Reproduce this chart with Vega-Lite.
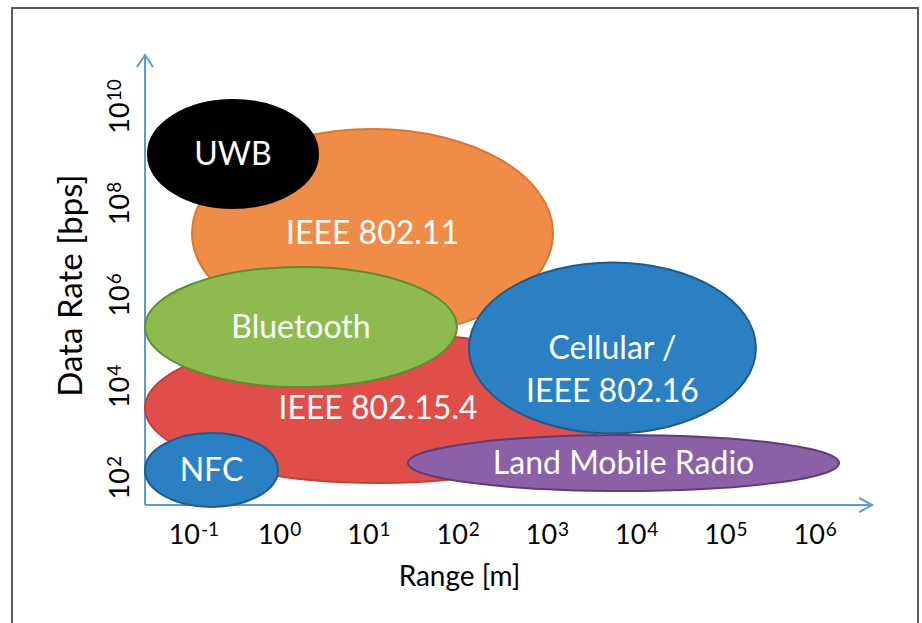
{
  "$schema": "https://vega.github.io/schema/vega-lite/v6.json",
  "width": 906,
  "height": 640,
  "autosize": "none",
  "padding": {"left": 12, "top": 8, "right": 4, "bottom": 0},
  "background": "white",
  "config": {
    "view": {"stroke": "#5a5a5a", "strokeWidth": 2},
    "font": "Lato",
    "axis": {
      "grid": false, "domain": false, "ticks": false, "tickSize": 0,
      "labelFont": "Lato", "labelColor": "#000000", "titleFont": "Lato", "titleColor": "#000000",
      "titleFontWeight": "normal", "labelOverlap": false, "labelFlush": false, "labelBound": false
    }
  },
  "data": {
    "values": [
      {"name": "IEEE 802.11", "label": "IEEE 802.11", "range": 10.93, "rate": 2.13e7, "rangeDecades": 4.044},
      {"name": "UWB", "label": "UWB", "range": 0.299, "rate": 1.14e9, "rangeDecades": 1.905},
      {"name": "IEEE 802.15.4", "label": "IEEE 802.15.4", "range": 12.59, "rate": 3162, "rangeDecades": 5.221},
      {"name": "Bluetooth", "label": "Bluetooth", "range": 1.728, "rate": 1.87e5, "rangeDecades": 3.495},
      {"name": "Cellular / IEEE 802.16", "label": "Cellular /\nIEEE 802.16", "range": 5333, "rate": 64940, "rangeDecades": 3.215},
      {"name": "Land Mobile Radio", "label": "Land Mobile Radio", "range": 7096, "rate": 198.2, "rangeDecades": 4.829},
      {"name": "NFC", "label": "NFC", "range": 0.1718, "rate": 139.3, "rangeDecades": 1.49}
    ]
  },
  "resolve": {"axis": {"x": "independent", "y": "independent"}},
  "layer": [
    {
      "data": {"values": [{}]},
      "mark": {"type": "rule", "color": "#5B9BD5", "strokeWidth": 2},
      "encoding": {
        "x": {"datum": 0.0309, "type": "quantitative", "scale": {"type": "log", "domain": [0.001, 14125375], "nice": false}, "axis": null},
        "x2": {"datum": 4315000},
        "y": {"datum": 23.88, "type": "quantitative", "scale": {"type": "log", "domain": [0.017783, 1778300000000], "nice": false}, "axis": null}
      }
    },
    {
      "data": {"values": [{}]},
      "mark": {"type": "rule", "color": "#5B9BD5", "strokeWidth": 2},
      "encoding": {
        "x": {"datum": 0.0309, "type": "quantitative", "scale": {"type": "log", "domain": [0.001, 14125375], "nice": false}, "axis": null},
        "y": {"datum": 23.88, "type": "quantitative", "scale": {"type": "log", "domain": [0.017783, 1778300000000], "nice": false}, "axis": null},
        "y2": {"datum": 166700000000}
      }
    },
    {
      "mark": {"type": "point", "filled": true, "opacity": 1, "strokeWidth": 2},
      "encoding": {
        "x": {
          "field": "range", "type": "quantitative",
          "scale": {"type": "log", "domain": [0.001, 14125375], "nice": false},
          "axis": {
            "orient": "bottom", "offset": -143,
            "values": [0.1, 1, 10, 100, 1000, 10000, 100000, 1000000],
            "labelExpr": "'10'", "labelFontSize": 27, "labelAlign": "right", "labelOffset": 9,
            "labelPadding": 17, "labelBaseline": "top",
            "title": "Range [m]", "titleFontSize": 28, "titleX": 447, "titleY": 80,
            "titleAlign": "center", "titleBaseline": "alphabetic"
          }
        },
        "y": {
          "field": "rate", "type": "quantitative",
          "scale": {"type": "log", "domain": [0.017783, 1778300000000], "nice": false},
          "axis": {
            "orient": "left", "offset": -133,
            "values": [100, 10000, 1000000, 100000000, 10000000000],
            "labelExpr": "'10'", "labelFontSize": 27, "labelAngle": -90, "labelAlign": "right",
            "labelBaseline": "alphabetic", "labelOffset": -9, "labelPadding": 17,
            "title": "Data Rate [bps]", "titleFontSize": 33, "titleAngle": 270, "titleX": -64, "titleY": 277,
            "titleAlign": "center", "titleBaseline": "alphabetic"
          }
        },
        "color": {
          "field": "name", "type": "nominal", "legend": null,
          "scale": {
            "domain": ["IEEE 802.11", "UWB", "IEEE 802.15.4", "Bluetooth", "Cellular / IEEE 802.16", "Land Mobile Radio", "NFC"],
            "range": ["#EF8C47", "#000000", "#DF4E48", "#8DBB4F", "#2B80C4", "#8B60A7", "#2B80C4"]
          }
        },
        "stroke": {
          "field": "name", "type": "nominal", "legend": null,
          "scale": {
            "domain": ["IEEE 802.11", "UWB", "IEEE 802.15.4", "Bluetooth", "Cellular / IEEE 802.16", "Land Mobile Radio", "NFC"],
            "range": ["#D9772F", "#000000", "#C43F3A", "#5F8D2F", "#1F5C8C", "#5E3D78", "#1F5C8C"]
          }
        },
        "shape": {
          "field": "name", "type": "nominal", "legend": null,
          "scale": {
            "domain": ["IEEE 802.11", "UWB", "IEEE 802.15.4", "Bluetooth", "Cellular / IEEE 802.16", "Land Mobile Radio", "NFC"],
            "range": [
              "M -1 0 A 1 0.576 0 1 1 1 0 A 1 0.576 0 1 1 -1 0 Z",
              "M -1 0 A 1 0.635 0 1 1 1 0 A 1 0.635 0 1 1 -1 0 Z",
              "M -1 0 A 1 0.322 0 1 1 1 0 A 1 0.322 0 1 1 -1 0 Z",
              "M -1 0 A 1 0.385 0 1 1 1 0 A 1 0.385 0 1 1 -1 0 Z",
              "M -1 0 A 1 0.596 0 1 1 1 0 A 1 0.596 0 1 1 -1 0 Z",
              "M -1 0 A 1 0.13 0 1 1 1 0 A 1 0.13 0 1 1 -1 0 Z",
              "M -1 0 A 1 0.556 0 1 1 1 0 A 1 0.556 0 1 1 -1 0 Z"
            ]
          }
        },
        "size": {
          "field": "rangeDecades", "type": "quantitative", "legend": null,
          "scale": {"type": "pow", "exponent": 2, "domain": [0, 10], "range": [0, 796735]}
        }
      }
    },
    {
      "mark": {"type": "text", "color": "white", "font": "Lato", "fontSize": 32, "align": "center", "baseline": "middle", "lineBreak": "\n", "lineHeight": 43, "dy": 1},
      "encoding": {
        "x": {
          "field": "range", "type": "quantitative",
          "scale": {"type": "log", "domain": [0.001, 14125375], "nice": false},
          "axis": {
            "orient": "bottom", "offset": -143,
            "values": [0.1, 1, 10, 100, 1000, 10000, 100000, 1000000],
            "labelExpr": "'' + round(log(datum.value) / LN10)", "labelFontSize": 19, "labelAlign": "left", "labelOffset": 10,
            "labelPadding": 15, "labelBaseline": "top", "title": null
          }
        },
        "y": {
          "field": "rate", "type": "quantitative",
          "scale": {"type": "log", "domain": [0.017783, 1778300000000], "nice": false},
          "axis": {
            "orient": "left", "offset": -133,
            "values": [100, 10000, 1000000, 100000000, 10000000000],
            "labelExpr": "'' + round(log(datum.value) / LN10)", "labelFontSize": 19, "labelAngle": -90, "labelAlign": "left",
            "labelBaseline": "alphabetic", "labelOffset": -10, "labelPadding": 24.5, "title": null
          }
        },
        "text": {"field": "label", "type": "nominal"}
      }
    },
    {
      "data": {"values": [{}]},
      "mark": {"type": "point", "shape": "M -1 1.5 L 0 0 L 1 1.5", "size": 256, "filled": false, "stroke": "#5B9BD5", "strokeWidth": 2, "opacity": 1},
      "encoding": {
        "x": {"datum": 0.0309, "type": "quantitative", "scale": {"type": "log", "domain": [0.001, 14125375], "nice": false}, "axis": null},
        "y": {"datum": 166700000000, "type": "quantitative", "scale": {"type": "log", "domain": [0.017783, 1778300000000], "nice": false}, "axis": null}
      }
    },
    {
      "data": {"values": [{}]},
      "mark": {"type": "point", "shape": "M -1.6 -0.9 L 0 0 L -1.6 0.9", "size": 256, "filled": false, "stroke": "#5B9BD5", "strokeWidth": 2, "opacity": 1},
      "encoding": {
        "x": {"datum": 4315000, "type": "quantitative", "scale": {"type": "log", "domain": [0.001, 14125375], "nice": false}, "axis": null},
        "y": {"datum": 23.88, "type": "quantitative", "scale": {"type": "log", "domain": [0.017783, 1778300000000], "nice": false}, "axis": null}
      }
    }
  ]
}
